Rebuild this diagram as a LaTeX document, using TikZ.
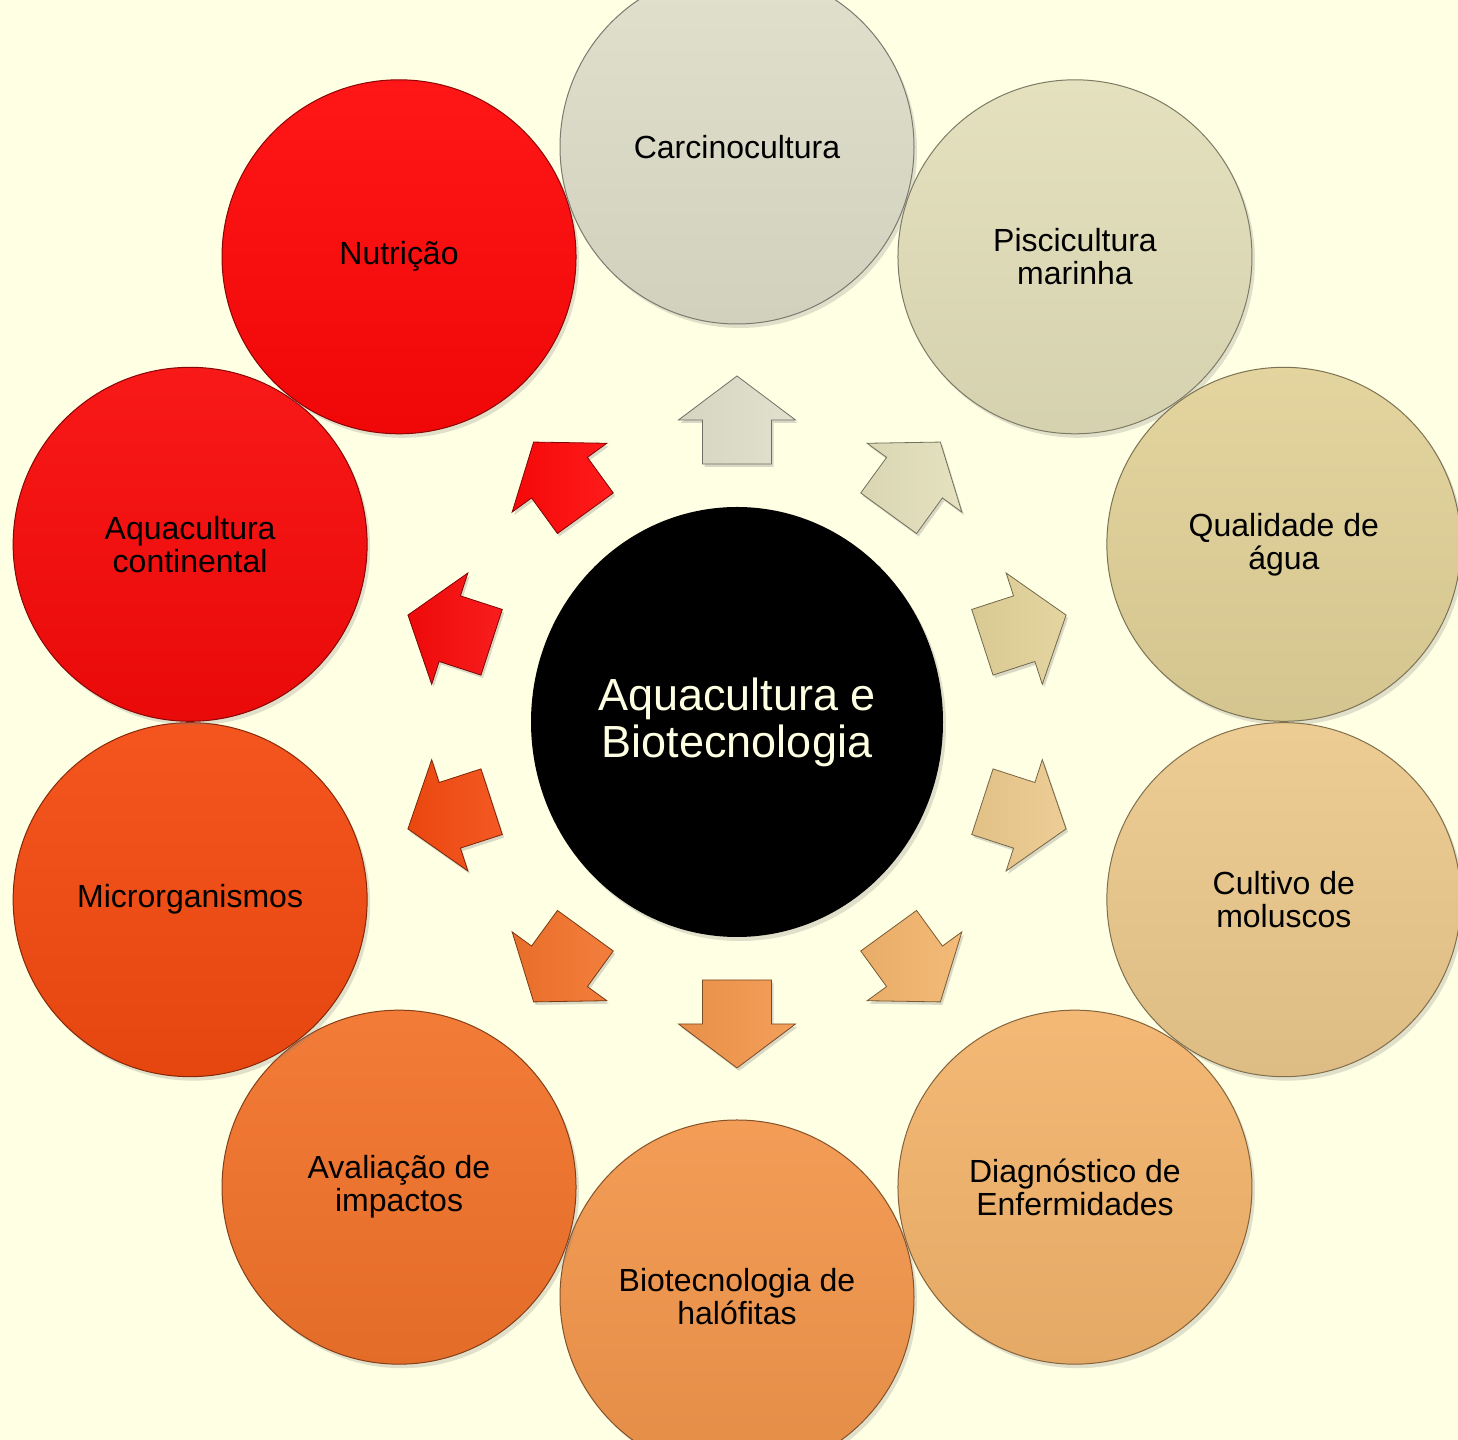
\documentclass[tikz,border=0pt]{standalone}
\usepackage{fontspec}
\setmainfont{Liberation Sans}
\usetikzlibrary{shapes.geometric, shadows}
\definecolor{bg}{HTML}{FFFFE3}
\definecolor{cA}{HTML}{DEDECA}
\definecolor{cB}{HTML}{E3DFBA}
\definecolor{cC}{HTML}{E2D198}
\definecolor{cD}{HTML}{EBC98C}
\definecolor{cE}{HTML}{F2B46C}
\definecolor{cF}{HTML}{F2964C}
\definecolor{cG}{HTML}{F2732B}
\definecolor{cH}{HTML}{F44A10}
\definecolor{cI}{HTML}{F80A0A}
\definecolor{cJ}{HTML}{FF0808}

\begin{document}
\begin{tikzpicture}[x=0.5pt, y=0.5pt,
    corebox/.style={ellipse, minimum width=206pt, minimum height=215pt, inner sep=0pt,
        fill=black, text=bg, align=center, font=\fontsize{22.5}{23.5}\selectfont,
        drop shadow={opacity=0.25, shadow xshift=1.5pt, shadow yshift=-2pt}},
    bubble/.style={circle, minimum size=177pt, inner sep=0pt, align=center,
        font=\fontsize{16}{16.5}\selectfont,
        top color=#1!94!white, bottom color=#1!94!black, draw=#1!55!black, line width=0.5pt,
        drop shadow={opacity=0.25, shadow xshift=1.5pt, shadow yshift=-2pt}},
    spoke/.style={left color=#1!96!black, right color=#1!92!white, draw=#1!50!black, line width=0.4pt,
        drop shadow={opacity=0.3, shadow xshift=1pt, shadow yshift=-1.5pt}}]
    \useasboundingbox (0,0) rectangle (1458,1440);
    \fill[bg] (0,0) rectangle (1458,1440);

    \node[corebox] (hub) at (737,718) {Aquacultura e\\Biotecnologia};

    \foreach \a/\n/\c/\t in {
        90/carcino/cA/{Carcinocultura},
        54/pisci/cB/{Piscicultura\\marinha},
        18/qualidade/cC/{Qualidade de\\água},
        -18/cultivo/cD/{Cultivo de\\moluscos},
        -54/diag/cE/{Diagnóstico de\\Enfermidades},
        -90/halofitas/cF/{Biotecnologia de\\halófitas},
        234/impactos/cG/{Avaliação de\\impactos},
        198/micro/cH/{Microrganismos},
        162/continental/cI/{Aquacultura\\continental},
        126/nutricao/cJ/{Nutrição}}
        \node[bubble=\c] (\n) at ([shift={(\a:575)}]hub.center) {\t};

    \foreach \a/\c in {90/cA, 54/cB, 18/cC, -18/cD, -54/cE, -90/cF, 234/cG, 198/cH, 162/cI, 126/cJ}
        \path[spoke=\c, shift={(hub.center)}, rotate=\a]
            (258,-34.5) -- (302,-34.5) -- (302,-58.5) -- (346,0) -- (302,58.5) -- (302,34.5) -- (258,34.5) -- cycle;
\end{tikzpicture}
\end{document}
